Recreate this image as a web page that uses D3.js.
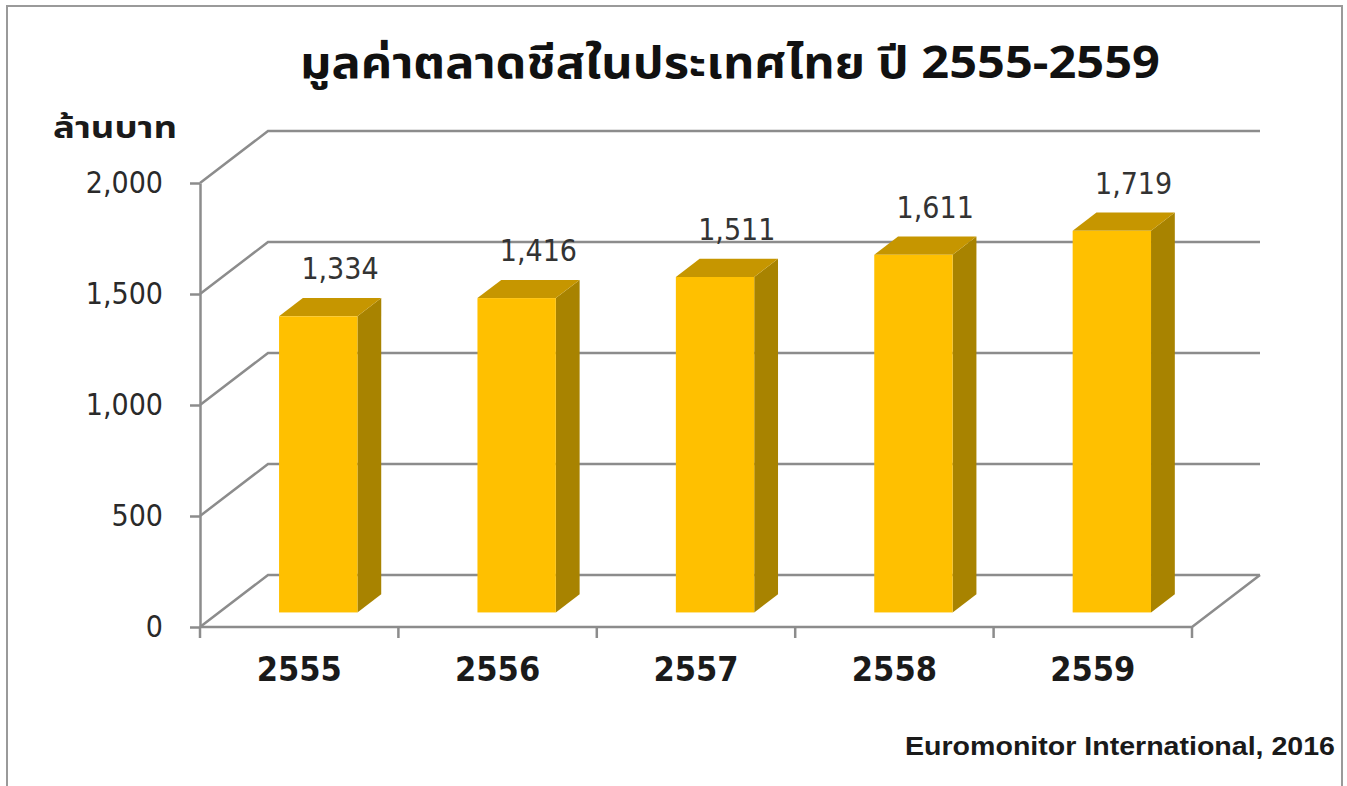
<!DOCTYPE html>
<html>
<head>
<meta charset="utf-8">
<script src="https://cdnjs.cloudflare.com/ajax/libs/d3/7.8.5/d3.min.js"></script>
<style>
  body { margin: 0; background: #fff; }
  svg { display: block; }
</style>
</head>
<body>
<div id="chart"></div>
<script>
// DATA
const years = ["2555", "2556", "2557", "2558", "2559"]
const values = [1334, 1416, 1511, 1611, 1719]
const yTicks = [0, 500, 1000, 1500, 2000]
const title = "มูลค่าตลาดชีสในประเทศไทย ปี 2555-2559"
const unitLabel = "ล้านบาท"
const source = "Euromonitor International, 2016"

const width = 1347, height = 786
const thaiFont = "'Noto Sans Thai', 'Noto Sans Thai UI', 'Tlwg Typo', Garuda, 'Noto Sans', sans-serif"
const numFont = "'DejaVu Sans Condensed', 'DejaVu Sans', sans-serif"

const svg = d3.select("#chart")
  .append("svg")
    .attr("width", width)
    .attr("height", height)

// frame
svg.append("rect")
  .attr("x", 7).attr("y", 6)
  .attr("width", 1335).attr("height", 800)
  .attr("fill", "none")
  .attr("stroke", "#9a9a9a")
  .attr("stroke-width", 2)

// SCALES (front plane + depth)
const xScale = d3.scaleBand()
  .domain(years)
  .range([200, 1192])

const yScale = d3.scaleLinear()
  .domain([0, 2000])
  .range([627, 183])

const depthX = d3.scaleLinear().domain([0, 1]).range([0, 68])
const depthY = d3.scaleLinear().domain([0, 1]).range([0, -52])

// project a point (front x, value, depth) to screen
const P = (x, v, d) => [x + depthX(d), yScale(v) + depthY(d)]

const gridColor = "#8c8c8c"
const x0 = xScale.range()[0], x1 = xScale.range()[1]

// GRID: back wall lines + left wall diagonals
const grid = svg.append("g")
  .attr("fill", "none")
  .attr("stroke", gridColor)
  .attr("stroke-width", 2.5)

grid.selectAll("path")
  .data(yTicks)
  .join("path")
    .attr("d", v => d3.line()([P(x0, v, 0), P(x0, v, 1), P(x1, v, 1)]))

// floor front + right edge
grid.append("path")
  .attr("d", d3.line()([P(x0, 0, 0), P(x1, 0, 0), P(x1, 0, 1)]))

// Y AXIS
svg.append("g")
  .attr("transform", `translate(${x0},0)`)
  .call(d3.axisLeft(yScale)
    .tickValues(yTicks)
    .tickFormat(d3.format(","))
    .tickSize(10)
    .tickSizeOuter(0)
    .tickPadding(27))
  .call(g => g.select(".domain").attr("stroke", gridColor).attr("stroke-width", 2.5))
  .call(g => g.selectAll(".tick line").attr("stroke", gridColor).attr("stroke-width", 2.5))
  .call(g => g.selectAll(".tick text")
    .attr("font-family", numFont)
    .attr("font-size", 30)
    .attr("fill", "#2a2a2a"))

// X category boundary ticks
const bounds = years.map(d => xScale(d)).concat([x1])
svg.append("g")
  .selectAll("line")
  .data(bounds)
  .join("line")
    .attr("x1", d => d).attr("x2", d => d)
    .attr("y1", yScale(0)).attr("y2", yScale(0) + 11)
    .attr("stroke", gridColor)
    .attr("stroke-width", 2.5)

// X labels
svg.append("g")
  .attr("transform", `translate(0,${yScale(0)})`)
  .call(d3.axisBottom(xScale).tickSize(0).tickPadding(30))
  .call(g => g.select(".domain").remove())
  .call(g => g.selectAll(".tick text")
    .attr("font-family", numFont)
    .attr("font-weight", "bold")
    .attr("font-size", 34)
    .attr("fill", "#1a1a1a"))

// BARS (3D boxes)
const d0 = 0.28, d1 = 0.63
const barW = xScale.bandwidth() * 0.395
const barData = years.map((y, i) => ({ year: y, value: values[i] }))

const bars = svg.append("g")
  .selectAll("g")
  .data(barData)
  .join("g")

bars.each(function(d) {
  const g = d3.select(this)
  const cx = xScale(d.year) + xScale.bandwidth() / 2
  const L = cx - barW / 2, R = cx + barW / 2
  const line = d3.line()
  // side face
  g.append("path")
    .attr("d", line([P(R, 0, d0), P(R, 0, d1), P(R, d.value, d1), P(R, d.value, d0)]) + "Z")
    .attr("fill", "#a88300")
  // top face
  g.append("path")
    .attr("d", line([P(L, d.value, d0), P(R, d.value, d0), P(R, d.value, d1), P(L, d.value, d1)]) + "Z")
    .attr("fill", "#c69600")
  // front face
  const [fx, fyTop] = P(L, d.value, d0)
  const fyBot = P(L, 0, d0)[1]
  g.append("rect")
    .attr("x", fx)
    .attr("y", fyTop)
    .attr("width", barW)
    .attr("height", fyBot - fyTop)
    .attr("fill", "#ffc000")
})

// VALUE LABELS
svg.append("g")
  .selectAll("text")
  .data(barData)
  .join("text")
    .attr("x", d => P(xScale(d.year) + xScale.bandwidth() / 2, d.value, 0.6)[0])
    .attr("y", d => P(0, d.value, d1)[1] - 19)
    .attr("text-anchor", "middle")
    .attr("font-family", numFont)
    .attr("font-size", 30)
    .attr("fill", "#333")
    .text(d => d3.format(",")(d.value))

// TITLE
svg.append("text")
  .attr("x", 300)
  .attr("y", 78)
  .attr("textLength", 860)
  .attr("lengthAdjust", "spacingAndGlyphs")
  .attr("font-family", thaiFont)
  .attr("font-weight", "bold")
  .attr("font-size", 44)
  .attr("fill", "#111")
  .text(title)

// UNIT LABEL
svg.append("text")
  .attr("x", 53)
  .attr("y", 138)
  .attr("textLength", 124)
  .attr("lengthAdjust", "spacingAndGlyphs")
  .attr("font-family", thaiFont)
  .attr("font-weight", "bold")
  .attr("font-size", 30)
  .attr("fill", "#1a1a1a")
  .text(unitLabel)

// SOURCE
svg.append("text")
  .attr("x", 1335)
  .attr("y", 755)
  .attr("text-anchor", "end")
  .attr("textLength", 430)
  .attr("lengthAdjust", "spacingAndGlyphs")
  .attr("font-family", "'Liberation Sans', Arial, sans-serif")
  .attr("font-weight", "bold")
  .attr("font-size", 26)
  .attr("fill", "#1a1a1a")
  .text(source)
</script>
</body>
</html>
